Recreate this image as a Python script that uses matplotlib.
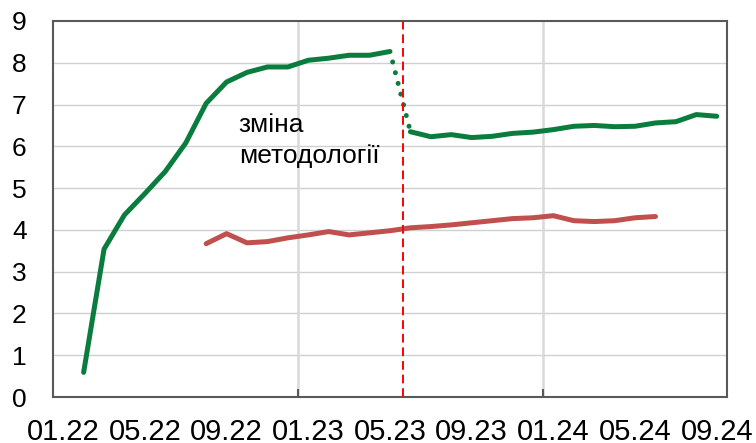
import numpy as np
import matplotlib
matplotlib.use('Agg')
import matplotlib.pyplot as plt

plt.rcParams['font.family'] = ['Liberation Sans', 'DejaVu Sans']

# months counted from 01.2022 (0 = Jan 2022)
tick_months = [0, 4, 8, 12, 16, 20, 24, 28, 32]
tick_labels = ['01.22', '05.22', '09.22', '01.23', '05.23', '09.23', '01.24', '05.24', '09.24']

# green series, old methodology (02.22 - 05.23)
green_old_months = list(range(1, 17))
green_old = [0.59, 3.54, 4.36, 4.87, 5.40, 6.08, 7.03, 7.54, 7.77, 7.90,
             7.90, 8.06, 8.11, 8.18, 8.18, 8.27]

# green series, new methodology (06.23 - 09.24)
green_new_months = list(range(17, 33))
green_new = [6.35, 6.23, 6.28, 6.21, 6.24, 6.31, 6.34, 6.40, 6.48, 6.50,
             6.47, 6.48, 6.56, 6.59, 6.76, 6.72]

# red series (08.22 - 06.24)
red_months = list(range(7, 30))
red = [3.67, 3.91, 3.69, 3.72, 3.81, 3.88, 3.96, 3.88, 3.93, 3.98,
       4.05, 4.08, 4.12, 4.17, 4.22, 4.27, 4.29, 4.34, 4.22, 4.20,
       4.22, 4.29, 4.32]

method_change = 17.14   # dashed marker, just after 06.23 starts
year_lines = [12, 24]

GREEN = '#0A7D3E'
RED = '#C0504D'
FRAME = '#595959'

fig = plt.figure(figsize=(7.56, 4.43), dpi=100)
ax = fig.add_axes([0.0701, 0.1038, 0.8915, 0.8488])

# grid
for v in range(1, 9):
    ax.axhline(v, color='#D0D0D0', lw=1.0, zorder=1)
for v in year_lines:
    ax.axvline(v, color='#D9D9D9', lw=1.8, zorder=1)

mid = 0.5  # points sit in the middle of each month
ax.plot(np.array(green_old_months) + mid, green_old, color=GREEN, lw=3.6,
        solid_capstyle='round', solid_joinstyle='round', zorder=3)
ax.plot(np.array(green_new_months) + mid, green_new, color=GREEN, lw=3.6,
        solid_capstyle='round', solid_joinstyle='round', zorder=3)
# dotted bridge between the two methodologies
ax.plot([green_old_months[-1] + mid, green_new_months[0] + mid],
        [green_old[-1], green_new[0]], color=GREEN, lw=3.6,
        linestyle=(0.05, (0.01, 2.2)), dash_capstyle='round', zorder=3)
ax.plot(np.array(red_months) + mid, red, color=RED, lw=3.6,
        solid_capstyle='round', solid_joinstyle='round', zorder=3)

ax.axvline(method_change, color='#FF0000', lw=1.4, linestyle=(0, (4.5, 2.5)), zorder=4)

ax.text(9.1, 6.35, 'зміна', fontsize=19, ha='left', va='baseline', zorder=5)
ax.text(9.1, 5.6, 'методології', fontsize=19, ha='left', va='baseline', zorder=5)

ax.set_xlim(0, 33)
ax.set_ylim(0, 9)
ax.set_yticks(range(0, 10))
ax.tick_params(axis='y', length=0, pad=19, labelsize=19)

ax.set_xticks(np.array(tick_months) + mid)
ax.set_xticklabels(tick_labels)
ax.tick_params(axis='x', length=0, pad=15, labelsize=21)
ax.set_xticks(year_lines, minor=True)
ax.tick_params(axis='x', which='minor', direction='in', length=6, width=1.5, color=FRAME)

for s in ax.spines.values():
    s.set_color(FRAME)
    s.set_linewidth(1.5)

fig.savefig('out.png', dpi=100)
